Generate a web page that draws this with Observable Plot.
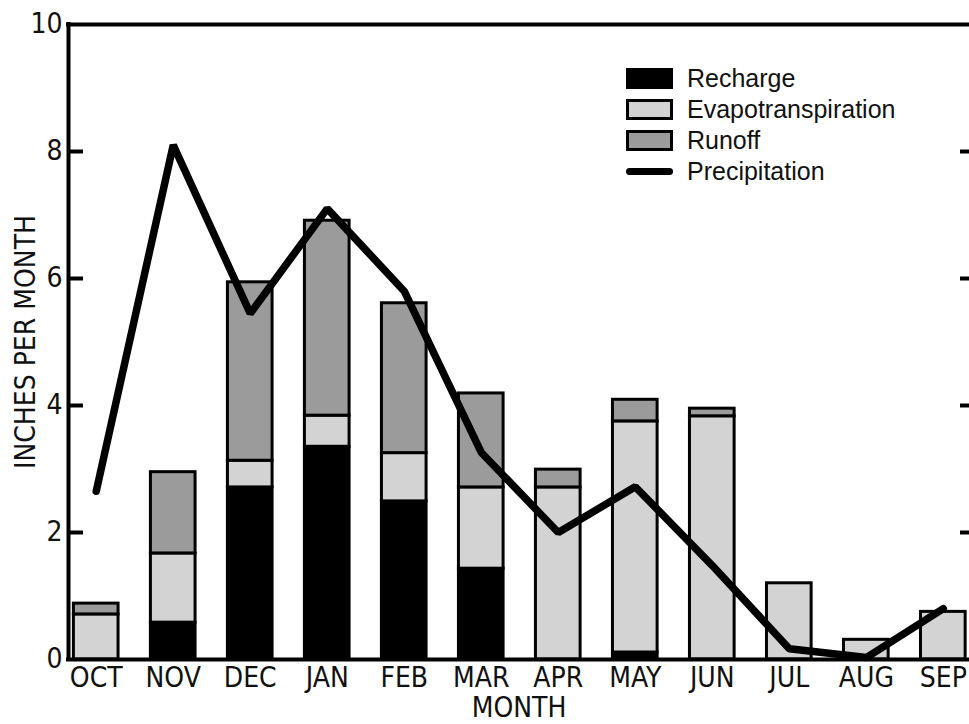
<!DOCTYPE html>
<html><head><meta charset="utf-8">
<script src="https://cdn.jsdelivr.net/npm/d3@7"></script>
<script src="https://cdn.jsdelivr.net/npm/@observablehq/plot@0.6"></script>
<style>
body{margin:0;background:#fff;overflow:hidden}
#wrap{position:relative;width:969px;height:724px}
.legend{position:absolute;left:626px;top:63px;font-family:"Liberation Sans",Arial,sans-serif;font-size:25px;color:#111}
.row{display:flex;align-items:center;height:31px}
.sw{width:41px;height:15px;border:3px solid #000;margin-right:14px;box-sizing:content-box}
.ln{width:47px;height:7px;background:#000;border-radius:4px;margin-right:14px}
</style></head>
<body><div id="wrap"></div>
<script>
const months = ["OCT","NOV","DEC","JAN","FEB","MAR","APR","MAY","JUN","JUL","AUG","SEP"];
const recharge = [0, 0.58, 2.71, 3.35, 2.49, 1.43, 0, 0.11, 0, 0, 0, 0];
const evapotranspiration = [0.71, 1.09, 0.42, 0.49, 0.76, 1.28, 2.71, 3.64, 3.83, 1.2, 0.31, 0.75];
const runoff = [0.17, 1.28, 2.81, 3.07, 2.36, 1.48, 0.28, 0.34, 0.12, 0, 0, 0];
const precipitation = [2.65, 8.1, 5.45, 7.1, 5.8, 3.26, 2.0, 2.72, 1.48, 0.17, 0.03, 0.8];
const seriesNames = ["Recharge", "Evapotranspiration", "Runoff"];
const seriesColors = ["#000000", "#d3d3d3", "#9b9b9b"];
const yTicks = [0, 2, 4, 6, 8, 10];

const seriesValues = [recharge, evapotranspiration, runoff];
const rows = [];
months.forEach((m, i) => {
  let base = 0;
  seriesValues.forEach((arr, s) => {
    const v = arr[i];
    if (v > 0) rows.push({i, series: seriesNames[s], y1: base, y2: base + v});
    base += v;
  });
});
const precip = precipitation.map((v, i) => ({i, v}));
const xDomain = [-0.36, 11.34];
const W = 969, H = 724, mL = 68, mR = 0, mT = 24, mB = 65;
const plotW = W - mL - mR;

const chart = Plot.plot({
  width: W, height: H, marginLeft: mL, marginRight: mR, marginTop: mT, marginBottom: mB,
  x: {type: "linear", domain: xDomain},
  y: {domain: [0, 10]},
  color: {domain: seriesNames, range: seriesColors},
  style: {fontFamily: '"Liberation Sans Narrow","DejaVu Sans Condensed",sans-serif', fontSize: "28px", color: "#111", background: "#fff"},
  marks: [
    Plot.rectY(rows, {x1: d => d.i - 0.29, x2: d => d.i + 0.29, y1: "y1", y2: "y2", fill: "series", stroke: "#000", strokeWidth: 3}),
    Plot.gridY([2, 4, 6, 8], {stroke: "#000", strokeOpacity: 1, strokeWidth: 4, insetRight: plotW - 15}),
    Plot.gridY([2, 4, 6, 8], {stroke: "#000", strokeOpacity: 1, strokeWidth: 4, insetLeft: plotW - 9}),
    Plot.ruleY([0, 10], {stroke: "#000", strokeWidth: 4, strokeLinecap: "square"}),
    Plot.ruleX([xDomain[0]], {y1: 0, y2: 10, stroke: "#000", strokeWidth: 4, strokeLinecap: "square"}),
    Plot.line(precip, {x: "i", y: "v", stroke: "#000", strokeWidth: 7.5, strokeLinejoin: "miter", strokeLinecap: "round"}),
    Plot.axisY({ticks: yTicks, tickSize: 0, tickPadding: 6, label: "INCHES PER MONTH", labelAnchor: "center", labelOffset: 53, labelArrow: "none"}),
    Plot.axisX({ticks: d3.range(12), tickFormat: i => months[i], tickSize: 0, tickPadding: 8, label: "MONTH", labelAnchor: "center", labelOffset: 57, labelArrow: "none"})
  ]
});
const wrap = document.getElementById("wrap");
wrap.appendChild(chart);

const legend = document.createElement("div");
legend.className = "legend";
seriesNames.forEach((n, s) => {
  const r = document.createElement("div"); r.className = "row";
  const sw = document.createElement("div"); sw.className = "sw"; sw.style.background = seriesColors[s];
  const t = document.createElement("span"); t.textContent = n;
  r.appendChild(sw); r.appendChild(t); legend.appendChild(r);
});
const r = document.createElement("div"); r.className = "row";
const ln = document.createElement("div"); ln.className = "ln";
const t = document.createElement("span"); t.textContent = "Precipitation";
r.appendChild(ln); r.appendChild(t); legend.appendChild(r);
wrap.appendChild(legend);
</script></body></html>
